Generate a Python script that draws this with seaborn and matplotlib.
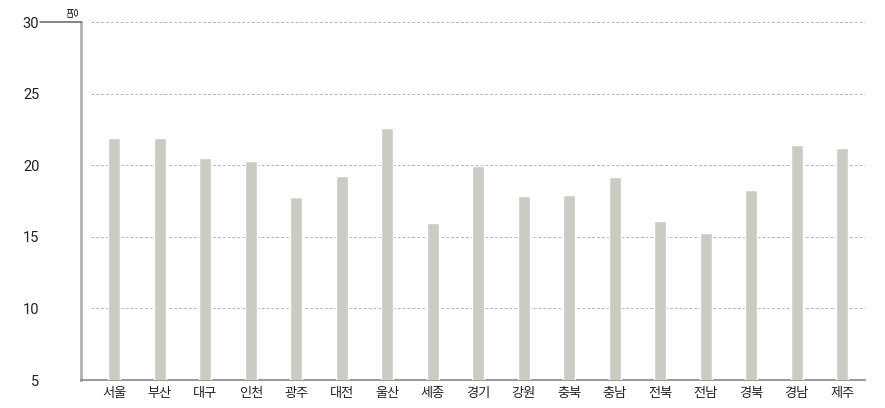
import matplotlib
matplotlib.use("Agg")
import matplotlib.pyplot as plt
import seaborn as sns
import pandas as pd

regions = ["서울", "부산", "대구", "인천", "광주", "대전", "울산", "세종", "경기",
           "강원", "충북", "충남", "전북", "전남", "경북", "경남", "제주"]
values = [21.9, 21.9, 20.5, 20.3, 17.8, 19.25, 22.6, 15.95, 19.95,
          17.85, 17.9, 19.2, 16.1, 15.25, 18.25, 21.4, 21.2]
y_ticks = [5, 10, 15, 20, 25, 30]
unit = "명"

df = pd.DataFrame({"region": regions, "value": values})

sns.set_style("white")
plt.rcParams["font.family"] = ["Noto Sans CJK KR", "DejaVu Sans"]

fig = plt.figure(figsize=(8.85, 4.08), dpi=100)
ax = fig.add_axes([81 / 885, 1 - 380 / 408, (865 - 81) / 885, (380 - 22) / 408])

sns.barplot(data=df, x="region", y="value", color="#cbcbc3", saturation=1,
            width=0.26, ax=ax, zorder=3)

n = len(regions)
ax.set_xlim(-0.73, n - 0.5)
ax.set_ylim(5, 30)

# dashed grid lines across the category area
ax.hlines(y_ticks[1:], -0.5, n - 0.5, colors="#b5b5b5", linestyles=(0, (3, 2)),
          linewidth=0.7, zorder=1)

# category labels at centres, tick marks at boundaries
ax.set_xticks(range(n))
ax.set_xticklabels(regions, fontsize=9.5, color="#222222")
ax.tick_params(axis="x", which="major", length=0, pad=5)
ax.set_xticks([i + 0.5 for i in range(n)], minor=True)
ax.tick_params(axis="x", which="minor", direction="out", length=5, width=1,
               color="#777777")

ax.set_yticks(y_ticks)
ax.set_yticklabels([str(t) for t in y_ticks], fontsize=10.5, color="#222222",
                   family=["Roboto", "DejaVu Sans"])
ax.tick_params(axis="y", direction="in", length=6, width=1, color="#555555",
               pad=30)

ax.set_xlabel("")
ax.set_ylabel("")

for s in ["top", "right"]:
    ax.spines[s].set_visible(False)
ax.spines["left"].set_color("#b0b0b0")
ax.spines["left"].set_linewidth(2)
ax.spines["bottom"].set_color("#888888")
ax.spines["bottom"].set_linewidth(1.2)

# long leader line from the "30" label to the axis
ax.annotate("", xy=(0, 30), xycoords=("axes fraction", "data"),
            xytext=(-41, 0), textcoords="offset pixels",
            arrowprops=dict(arrowstyle="-", color="#555555", lw=1,
                            shrinkA=0, shrinkB=0), annotation_clip=False)

ax.text(-0.002, 1.015, unit, transform=ax.transAxes, rotation=90,
        ha="right", va="bottom", fontsize=9, color="#222222")

fig.savefig("out.png", dpi=100)
